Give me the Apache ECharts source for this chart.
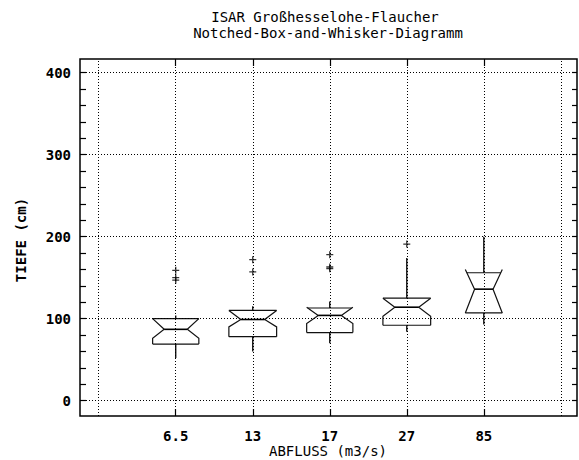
<!DOCTYPE html>
<html>
<head>
<meta charset="utf-8">
<script src="https://cdn.jsdelivr.net/npm/echarts@6/dist/echarts.min.js"></script>
<style>
  html, body { margin: 0; padding: 0; background: #fff; }
  #chart { width: 579px; height: 460px; }
</style>
</head>
<body>
<div id="chart"></div>
<script>
// Discharge classes (m3/s) and their slot on the x axis
const categories = ['6.5', '13', '17', '27', '85'];
const positions = [1, 2, 3, 4, 5];

// Depth statistics (cm) per discharge class
const q1 = [69, 78, 83, 92, 107];
const q3 = [100, 110, 113, 125, 156];
const median = [87, 99, 104, 114, 136];
const notchLow = [76, 90, 94, 103, 107];
const notchHigh = [100, 110, 114, 125, 160];
const whiskerLow = [52, 60, 70, 84, 93];
const whiskerHigh = [104, 115, 121, 174, 200];
const outliers = [[159, 150, 147], [172, 157], [178, 163, 161], [191], []];
const boxHalfWidth = [0.30, 0.31, 0.30, 0.31, 0.24];

// Axis ticks
const yMajorTicks = [0, 100, 200, 300, 400];
const yMinorTicks = [0, 20, 40, 60, 80, 100, 120, 140, 160, 180, 200, 220, 240, 260, 280, 300, 320, 340, 360, 380, 400];
const xGridLines = [0, 1, 2, 3, 4, 5, 6];

const FONT = 'DejaVu Sans Mono';
const Y_MIN = -18.7, Y_MAX = 416.7;
const X_MIN = -0.243, X_MAX = 6.21;

const boxData = positions.map((p, i) => [
  p, q1[i], q3[i], median[i], notchLow[i], notchHigh[i],
  whiskerLow[i], whiskerHigh[i], boxHalfWidth[i]
]);

const outlierData = [];
outliers.forEach((list, i) => list.forEach(v => outlierData.push([positions[i], v])));

function renderNotchedBox(params, api) {
  const x = api.value(0);
  const lo = api.value(1), hi = api.value(2), med = api.value(3);
  const nLo = api.value(4), nHi = api.value(5);
  const wLo = api.value(6), wHi = api.value(7);
  const w = api.value(8), nw = w * 0.5;
  const P = (dx, y) => api.coord([x + dx, y]);
  const stroke = { stroke: '#111', fill: null, lineWidth: 1.2 };

  // one side of the outline, s = -1 (left) or 1 (right)
  function side(s) {
    const pts = [];
    if (nLo >= lo) { pts.push(P(s * w, lo), P(s * w, nLo)); }
    else { pts.push(P(s * w, nLo)); }
    pts.push(P(s * nw, med));
    if (nHi <= hi) { pts.push(P(s * w, nHi), P(s * w, hi)); }
    else { pts.push(P(s * w, nHi)); }
    return pts;
  }
  const oLo = nLo >= lo ? w : nw + (w - nw) * (med - lo) / (med - nLo);
  const oHi = nHi <= hi ? w : nw + (w - nw) * (hi - med) / (nHi - med);

  const children = [
    { type: 'polyline', shape: { points: side(-1) }, style: stroke },
    { type: 'polyline', shape: { points: side(1) }, style: stroke },
    { type: 'polyline', shape: { points: [P(-oLo, lo), P(oLo, lo)] }, style: stroke },
    { type: 'polyline', shape: { points: [P(-oHi, hi), P(oHi, hi)] }, style: stroke },
    { type: 'polyline', shape: { points: [P(-nw, med), P(nw, med)] }, style: { stroke: '#000', fill: null, lineWidth: 1.6 } },
    { type: 'polyline', shape: { points: [P(0, lo), P(0, wLo)] }, style: { stroke: '#000', fill: null, lineWidth: 1.3 } },
    { type: 'polyline', shape: { points: [P(0, hi), P(0, wHi)] }, style: { stroke: '#000', fill: null, lineWidth: 1.3 } }
  ];
  return { type: 'group', children };
}

const hiddenLine = () => ({ show: false, onZero: false });
const tickStyle = { color: '#000', width: 1.2 };

const option = {
  animation: false,
  backgroundColor: '#fff',
  grid: {
    left: 80, right: 2, top: 59, bottom: 44,
    show: true, borderColor: '#000', borderWidth: 1.5, backgroundColor: 'transparent'
  },
  xAxis: [
    {
      type: 'value', min: X_MIN, max: X_MAX, position: 'bottom',
      axisLine: hiddenLine(), splitLine: { show: false },
      axisTick: { inside: true, length: 7, customValues: positions, lineStyle: tickStyle },
      axisLabel: {
        customValues: positions, margin: 13,
        formatter: v => categories[positions.indexOf(Math.round(v))] || '',
        color: '#000', fontFamily: FONT, fontWeight: 'bold', fontSize: 14
      }
    },
    {
      type: 'value', min: X_MIN, max: X_MAX, position: 'top',
      axisLine: hiddenLine(), splitLine: { show: false },
      axisTick: { inside: true, length: 7, customValues: positions, lineStyle: tickStyle },
      axisLabel: { show: false }
    }
  ],
  yAxis: [
    {
      type: 'value', min: Y_MIN, max: Y_MAX, position: 'left',
      axisLine: hiddenLine(), splitLine: { show: false },
      axisTick: { inside: true, length: 6, customValues: yMinorTicks, lineStyle: tickStyle },
      axisLabel: {
        customValues: yMajorTicks, margin: 9,
        color: '#000', fontFamily: FONT, fontWeight: 'bold', fontSize: 14
      }
    },
    {
      type: 'value', min: Y_MIN, max: Y_MAX, position: 'right',
      axisLine: hiddenLine(), splitLine: { show: false },
      axisTick: { inside: true, length: 5, customValues: yMinorTicks, lineStyle: tickStyle },
      axisLabel: { show: false }
    }
  ],
  graphic: [
    { type: 'text', style: { text: 'ISAR Großhesselohe-Flaucher', align: 'center', verticalAlign: 'middle', font: '14px "DejaVu Sans Mono"', fill: '#000' }, x: 325, y: 17 },
    { type: 'text', style: { text: 'Notched-Box-and-Whisker-Diagramm', align: 'center', verticalAlign: 'middle', font: '14px "DejaVu Sans Mono"', fill: '#000' }, x: 328, y: 33 },
    { type: 'text', style: { text: 'ABFLUSS (m3/s)', align: 'center', verticalAlign: 'middle', font: '14px "DejaVu Sans Mono"', fill: '#000' }, x: 328, y: 451 },
    { type: 'text', style: { text: 'TIEFE (cm)', align: 'center', verticalAlign: 'middle', font: 'bold 14px "DejaVu Sans Mono"', fill: '#000' }, x: 21, y: 240, rotation: Math.PI / 2 }
  ],
  series: [
    {
      type: 'custom',
      xAxisIndex: 0, yAxisIndex: 0,
      data: boxData,
      renderItem: renderNotchedBox,
      clip: false,
      silent: true,
      z: 3
    },
    {
      type: 'scatter',
      xAxisIndex: 0, yAxisIndex: 0,
      data: outlierData,
      symbol: 'path://M0,5L10,5M5,0L5,10',
      symbolSize: 7,
      itemStyle: { color: 'none', borderColor: '#000', borderWidth: 1.3 },
      silent: true,
      z: 4,
      markLine: {
        silent: true,
        symbol: ['none', 'none'],
        label: { show: false },
        lineStyle: { color: '#000', type: [1, 2], width: 1 },
        data: xGridLines.map(v => ({ xAxis: v })).concat(yMajorTicks.map(v => ({ yAxis: v })))
      }
    }
  ]
};

const chart = echarts.init(document.getElementById('chart'), null, { renderer: 'svg' });
chart.setOption(option);
</script>
</body>
</html>
